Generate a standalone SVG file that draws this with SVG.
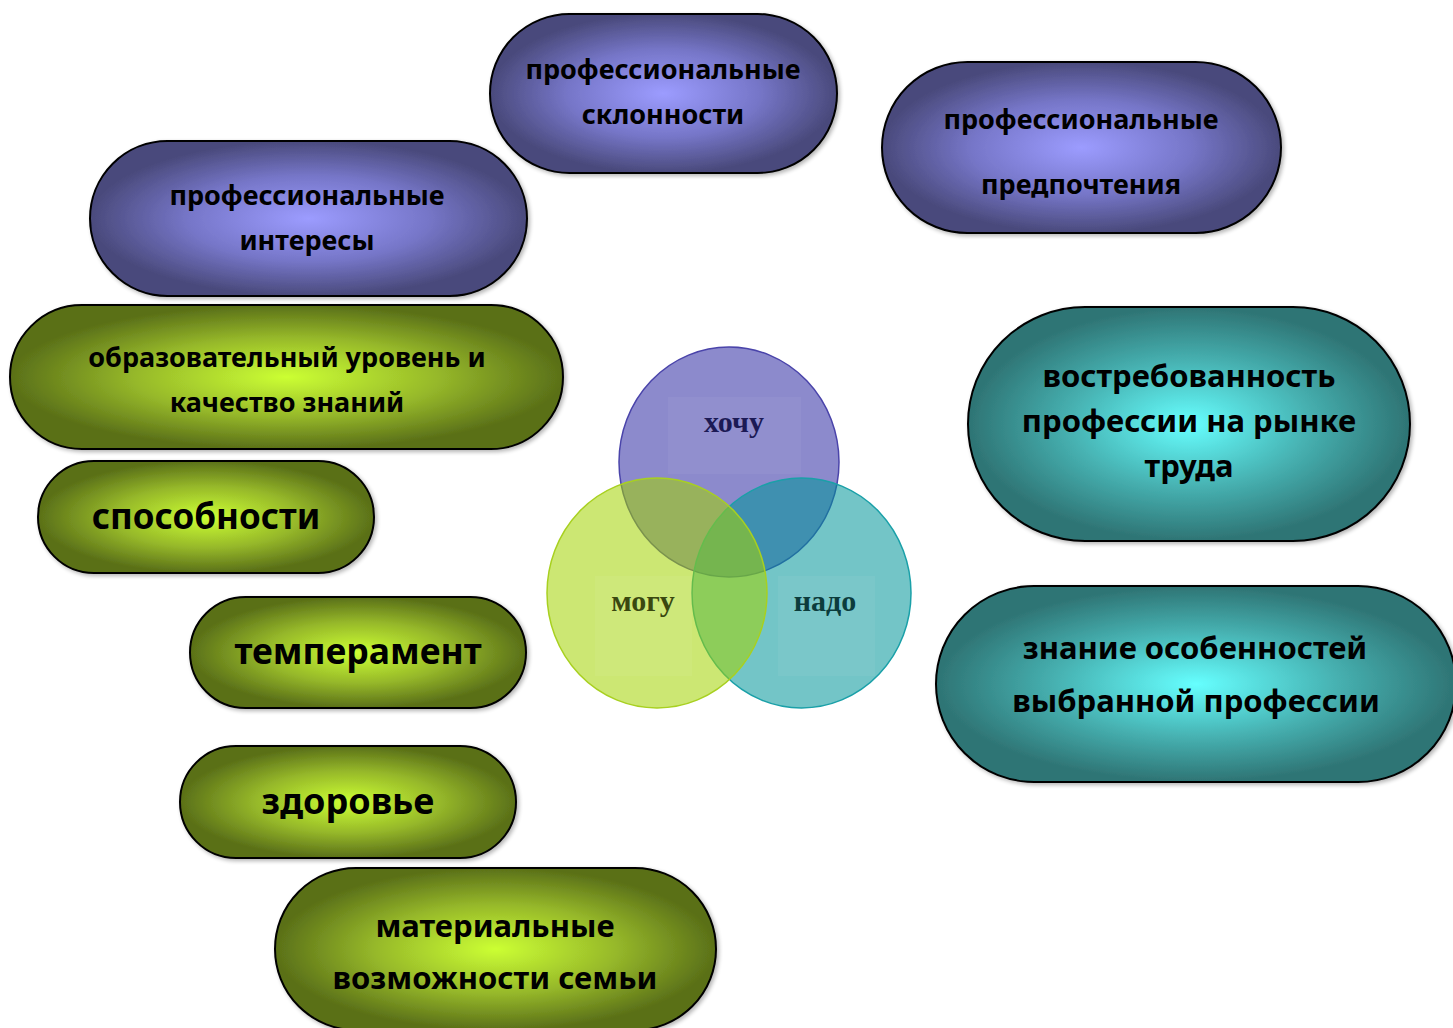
<svg xmlns="http://www.w3.org/2000/svg" width="1453" height="1028" viewBox="0 0 1453 1028">
<defs>
  <radialGradient id="gP" cx="0.5" cy="0.5" r="0.5">
    <stop offset="0" stop-color="#9c9cff"/>
    <stop offset="0.55" stop-color="#7676c8"/>
    <stop offset="1" stop-color="#4a4a7c"/>
  </radialGradient>
  <radialGradient id="gG" cx="0.5" cy="0.5" r="0.5">
    <stop offset="0" stop-color="#ccff33"/>
    <stop offset="0.55" stop-color="#96b82a"/>
    <stop offset="1" stop-color="#5a7018"/>
  </radialGradient>
  <radialGradient id="gT" cx="0.5" cy="0.5" r="0.5">
    <stop offset="0" stop-color="#66ffff"/>
    <stop offset="0.55" stop-color="#46b0b0"/>
    <stop offset="1" stop-color="#2e7474"/>
  </radialGradient>
  <filter id="sh" x="-5%" y="-5%" width="112%" height="115%">
    <feGaussianBlur in="SourceAlpha" stdDeviation="2"/>
    <feOffset dx="2" dy="2" result="o"/>
    <feComponentTransfer><feFuncA type="linear" slope="0.3"/></feComponentTransfer>
    <feMerge><feMergeNode/><feMergeNode in="SourceGraphic"/></feMerge>
  </filter>
</defs>
<style>
  .pill{stroke:#000;stroke-width:2;filter:url(#sh)}
  .p{fill:url(#gP)} .g{fill:url(#gG)} .t{fill:url(#gT)}
  text.l{font-family:"Noto Sans","Open Sans",sans-serif;font-weight:bold;fill:#000;text-anchor:middle;dominant-baseline:central}
  text.v{font-family:"Liberation Serif","DejaVu Serif",serif;font-weight:bold;font-size:30px;text-anchor:middle;dominant-baseline:central}
</style>
<rect width="1453" height="1028" fill="#fff"/>

<g id="venn">
  <g id="circle-hochu">
    <ellipse cx="729" cy="462" rx="110" ry="115" fill="#1a1599" fill-opacity="0.5" stroke="#4a44aa" stroke-width="1.5"/>
  </g>
  <g id="circle-nado">
    <ellipse cx="801.5" cy="593" rx="109.5" ry="115" fill="#009699" fill-opacity="0.55" stroke="#1aa0a8" stroke-width="1.5"/>
  </g>
  <g id="circle-mogu">
    <ellipse cx="657" cy="593" rx="110" ry="115" fill="#a2d400" fill-opacity="0.55" stroke="#a8d020" stroke-width="1.5"/>
  </g>
  <rect x="668" y="397" width="133" height="77" fill="#fff" fill-opacity="0.05"/>
  <rect x="595" y="576" width="97" height="100" fill="#fff" fill-opacity="0.05"/>
  <rect x="778" y="576" width="97" height="100" fill="#fff" fill-opacity="0.05"/>
  <text class="v" x="734" y="421" fill="#1c1a55">хочу</text>
  <text class="v" x="643" y="600" fill="#3a4810">могу</text>
  <text class="v" x="825" y="600" fill="#0c3c3c">надо</text>
</g>

<g id="connectors"></g>

<g id="n-sklonnosti">
  <rect class="pill p" x="490" y="14" width="347" height="159" rx="79.5"/>
  <text class="l" x="663" y="68" font-size="27">профессиональные</text>
  <text class="l" x="663" y="113" font-size="27">склонности</text>
</g>
<g id="n-predpochteniya">
  <rect class="pill p" x="882" y="62" width="399" height="171" rx="85.5"/>
  <text class="l" x="1081" y="118" font-size="27">профессиональные</text>
  <text class="l" x="1081" y="183" font-size="27">предпочтения</text>
</g>
<g id="n-interesy">
  <rect class="pill p" x="90" y="141" width="437" height="155" rx="77.5"/>
  <text class="l" x="307" y="194" font-size="27">профессиональные</text>
  <text class="l" x="307" y="239" font-size="27">интересы</text>
</g>
<g id="n-obrazovatelnyi">
  <rect class="pill g" x="10" y="305" width="553" height="144" rx="72"/>
  <text class="l" x="287" y="356" font-size="27">образовательный уровень и</text>
  <text class="l" x="287" y="401" font-size="27">качество знаний</text>
</g>
<g id="n-sposobnosti">
  <rect class="pill g" x="38" y="461" width="336" height="112" rx="56"/>
  <text class="l" x="206" y="515" font-size="35">способности</text>
</g>
<g id="n-temperament">
  <rect class="pill g" x="190" y="597" width="336" height="111" rx="55.5"/>
  <text class="l" x="358" y="650" font-size="35.5">темперамент</text>
</g>
<g id="n-zdorovie">
  <rect class="pill g" x="180" y="746" width="336" height="112" rx="56"/>
  <text class="l" x="348" y="800" font-size="36">здоровье</text>
</g>
<g id="n-materialnye">
  <rect class="pill g" x="275" y="868" width="441" height="162" rx="81"/>
  <text class="l" x="495" y="925" font-size="31">материальные</text>
  <text class="l" x="495" y="977" font-size="31">возможности семьи</text>
</g>
<g id="n-vostrebovannost">
  <rect class="pill t" x="968" y="307" width="442" height="234" rx="117"/>
  <text class="l" x="1189" y="375" font-size="31">востребованность</text>
  <text class="l" x="1189" y="420" font-size="31">профессии на рынке</text>
  <text class="l" x="1189" y="465" font-size="31">труда</text>
</g>
<g id="n-znanie">
  <rect class="pill t" x="936" y="586" width="520" height="196" rx="98"/>
  <text class="l" x="1195" y="647" font-size="31">знание особенностей</text>
  <text class="l" x="1196" y="700" font-size="31">выбранной профессии</text>
</g>
</svg>
